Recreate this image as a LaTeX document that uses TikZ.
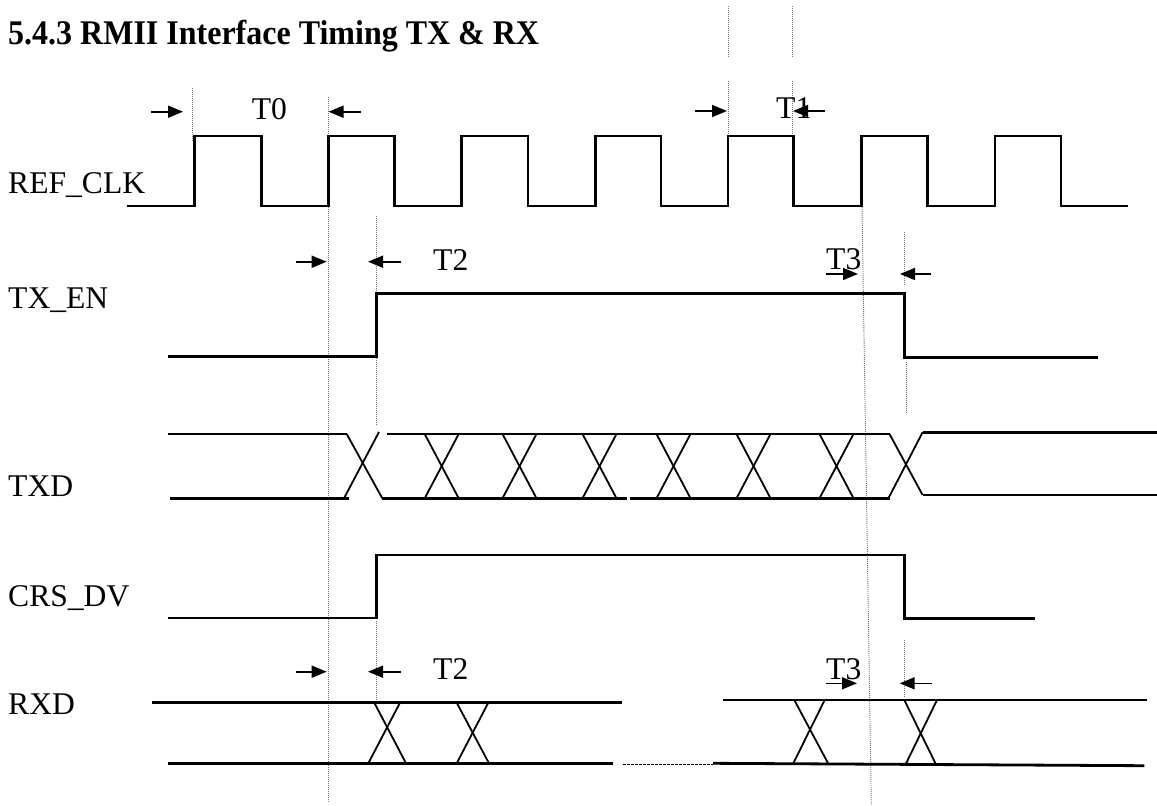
\documentclass[tikz,border=0pt]{standalone}
\usepackage{fontspec}
\setmainfont{Liberation Serif}
\usetikzlibrary{arrows.meta}
\begin{document}
\begin{tikzpicture}[x=1pt,y=-1pt,
  sig/.style={line width=2.8pt, line join=miter},
  xl/.style={line width=1.8pt},
  guide/.style={line width=0.9pt, black!55, dash pattern=on 1pt off 1pt},
  dimarrow/.style={line width=1.6pt, -{Triangle[length=15pt,width=12pt]}},
  lbl/.style={font=\fontsize{31.6}{34}\selectfont, inner sep=0pt, anchor=base west},
  tlbl/.style={font=\fontsize{31.6}{34}\selectfont, inner sep=0pt, anchor=base west}]
\useasboundingbox (0,0) rectangle (1157,806);

% title
\node[anchor=base west, inner sep=0pt, font=\fontsize{32}{36}\selectfont\bfseries] (title) at (8,44) {\scalebox{1}[1.08]{5.4.3 RMII Interface Timing TX \& RX}};

% signal names
\node[lbl] (nclk) at (8,193) {REF\_CLK};
\node[lbl] (ntxen) at (8,308) {TX\_EN};
\node[lbl] (ntxd) at (8,496) {TXD};
\node[lbl] (ncrs) at (8,606) {CRS\_DV};
\node[lbl] (nrxd) at (8,714) {RXD};

% guide lines
\draw[guide] (192.3,88) -- (192.3,142);
\draw[guide] (328.4,97) -- (328.4,803);
\draw[guide] (376.5,216) -- (376.5,425);
\draw[guide] (376.5,621) -- (376.5,702);
\draw[guide] (728.6,6) -- (728.6,58);
\draw[guide] (728.6,81) -- (728.6,135);
\draw[guide] (792.2,6) -- (792.2,58);
\draw[guide] (792.2,81) -- (792.2,135);
\draw[guide] (862,207) -- (871.3,805);
\draw[guide] (904.4,232) -- (904.4,285);
\draw[guide] (906.5,362) -- (906.5,413);
\draw[guide] (904.4,640) -- (904.4,698);

% REF_CLK
\draw[sig] (127,206) -| (194.3,136) -| (261.7,206) -| (328.3,136) -| (394.7,206)
  -| (461.7,136) -| (528,206) -| (595.7,136) -| (661,206) -| (727.9,136)
  -| (793.6,206) -| (861.8,136) -| (927.5,206) -| (995,136) -| (1061,206) -- (1127.5,206);

% TX_EN
\draw[sig] (168,356.7) -| (376.7,293.3) -| (904.3,357.5) -- (1098,357.5);

% CRS_DV
\draw[sig] (168,618) -| (376.7,555) -| (904.3,618.3) -- (1035,618.3);

% TXD
\draw[sig] (168,434) -- (346.7,434);
\draw[sig] (170,498.3) -- (349.3,498.3);
\draw[xl] (346.7,434) -- (382.3,498.3);
\draw[xl] (344,498.3) -- (379,432);
\draw[sig] (387,434) -- (889.5,434);
\draw[sig] (382.3,498.3) -- (626.7,498.3);
\draw[sig] (629.5,498.3) -- (890,498.3);
\foreach \c in {441.7,519.5,599.5,673.5,753.5,836.5}{
  \draw[xl] (\c-17,434) -- (\c+17,498.3);
  \draw[xl] (\c+17,434) -- (\c-17,498.3);
}
\draw[xl] (889.5,434) -- (922.6,495);
\draw[xl] (888.4,498.3) -- (922.6,432.3);
\draw[sig] (922.6,432.3) -- (1157,432.3);
\draw[sig] (922.6,495) -- (1157,495);

% RXD
\draw[sig] (151.7,702.7) -- (621.7,702.7);
\draw[sig] (168,763.3) -- (613.3,763.3);
\draw[xl] (374.3,702.7) -- (406,763.3);
\draw[xl] (400,702.7) -- (368.3,763.3);
\draw[xl] (456.7,702.7) -- (489,763.3);
\draw[xl] (488.3,702.7) -- (456.7,763.3);
\draw[line width=0.9pt, dash pattern=on 3pt off 1pt] (623,764) -- (713,764);
\draw[sig] (723,700) -- (1147,700);
\draw[sig] (713,763.3) -- (1144.3,765.7);
\draw[xl] (794.3,700) -- (828.7,764.5);
\draw[xl] (824.7,700) -- (792.7,764.5);
\draw[xl] (904.3,700) -- (936.3,765);
\draw[xl] (937,700) -- (905.3,765);

% timing labels and arrows
\node[tlbl] (t0) at (251.7,119) {T0};
\draw[dimarrow] (151,111.7) -- (183,111.7);
\draw[dimarrow] (361,111.7) -- (328.5,111.7);

\node[tlbl] (t1) at (776,118) {T1};
\draw[dimarrow] (695,111) -- (727,111);
\draw[dimarrow] (824.5,111) -- (793,111);

\node[tlbl] (t2a) at (433,270) {T2};
\draw[dimarrow] (295.7,261.7) -- (326.7,261.7);
\draw[dimarrow] (401,261.7) -- (368,261.7);

\node[tlbl] (t3a) at (826,269) {T3};
\draw[dimarrow] (826,274) -- (858,274);
\draw[dimarrow] (931,274) -- (900,274);

\node[tlbl] (t2b) at (433,679) {T2};
\draw[dimarrow] (295.7,671.7) -- (326.7,671.7);
\draw[dimarrow] (400.7,671.7) -- (368,671.7);

\node[tlbl] (t3b) at (826,679) {T3};
\draw[dimarrow] (826,683.3) -- (857,683.3);
\draw[dimarrow] (932,683.3) -- (899.7,683.3);
\end{tikzpicture}
\end{document}
